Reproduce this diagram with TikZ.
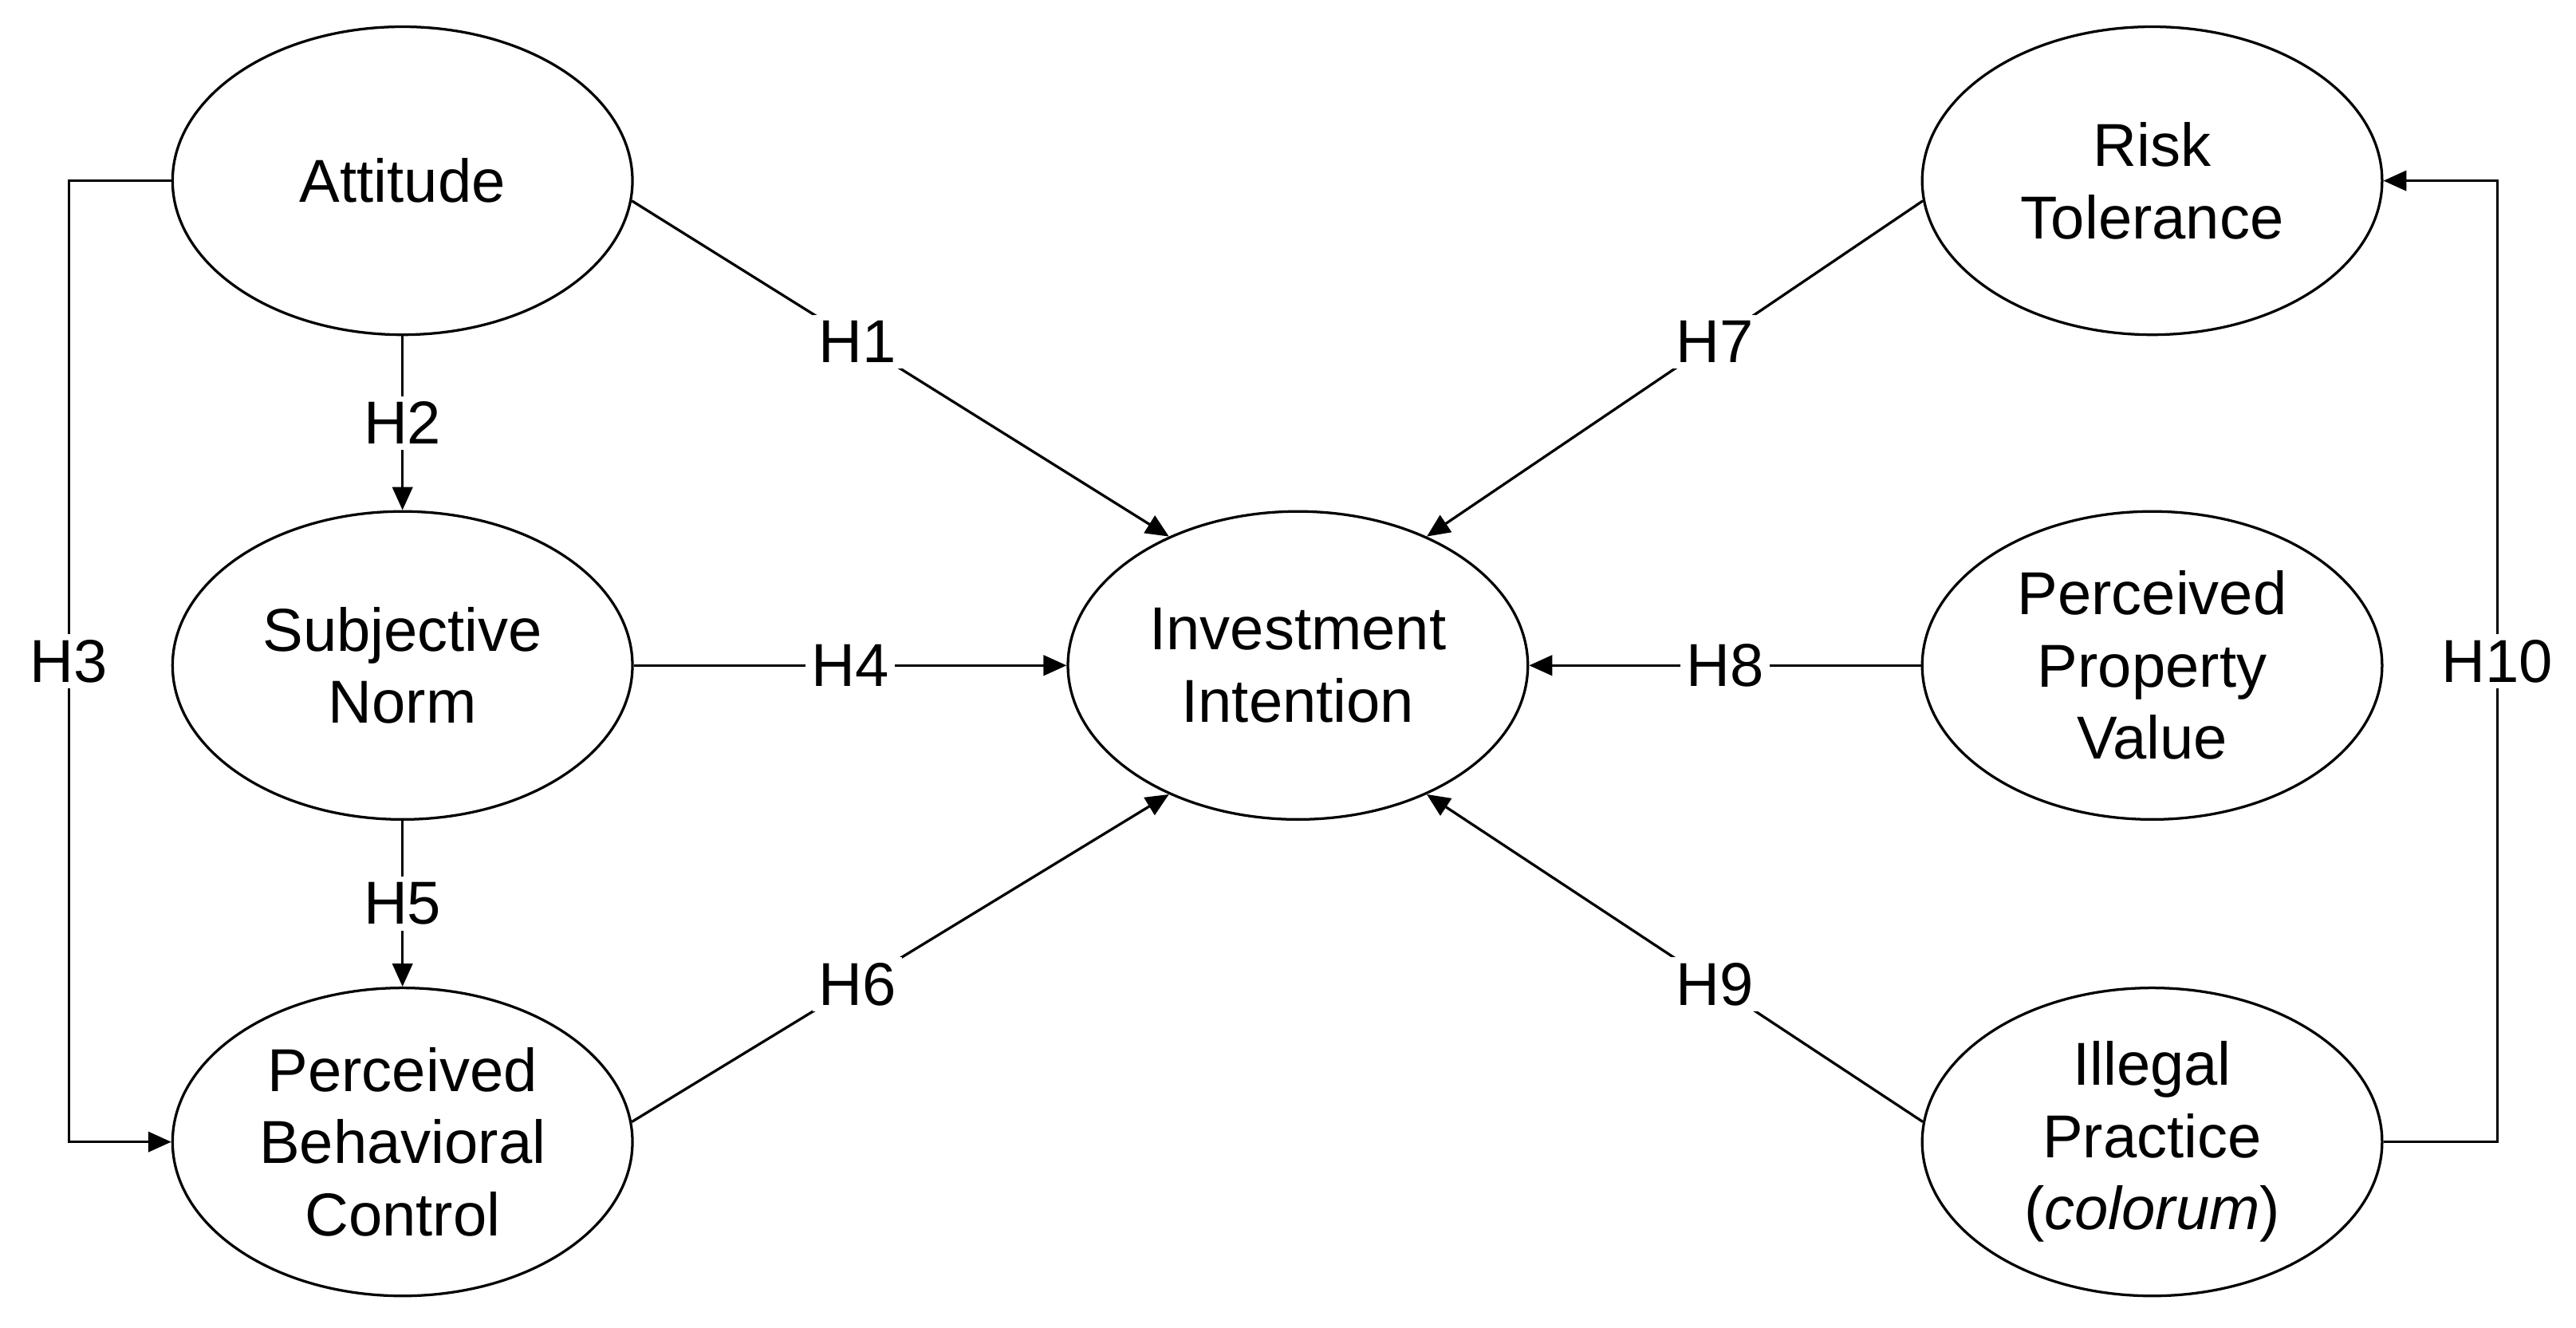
\documentclass[tikz,border=0pt]{standalone}
\usepackage{fontspec}
\setmainfont{Liberation Sans}
\usetikzlibrary{arrows.meta,shapes.geometric}
\begin{document}
\begin{tikzpicture}[x=0.02cm,y=-0.02cm,
  lat/.style={draw,ellipse,line width=0.9pt,minimum width=5.6cm,minimum height=3.75cm,inner sep=0pt,align=center,font=\fontsize{21}{25}\selectfont},
  arr/.style={line width=0.9pt,-{Triangle[length=8pt,width=7pt]}},
  lbl/.style={fill=white,inner sep=2pt,font=\fontsize{21}{25}\selectfont}]
\useasboundingbox (0,0) rectangle (1568,808);
\node[lat] (att) at (245,110) {Attitude};
\node[lat] (sn) at (245,405) {Subjective\\Norm};
\node[lat] (pbc) at (245,695) {Perceived\\Behavioral\\Control};
\node[lat] (ii) at (790,405) {Investment\\Intention};
\node[lat] (rt) at (1310,110) {Risk\\Tolerance};
\node[lat] (ppv) at (1310,405) {Perceived\\Property\\Value};
\node[lat] (ip) at (1310,695) {Illegal\\Practice\\(\textit{colorum})};
\coordinate (c3a) at (42,110); \coordinate (c3b) at (42,695);
\coordinate (c10a) at (1520,695); \coordinate (c10b) at (1520,110);
\draw[arr] (att.west) -- (c3a) -- node[lbl]{H3} (c3b) -- (pbc.west);
\draw[arr] (ip.east) -- (c10a) -- node[lbl]{H10} (c10b) -- (rt.east);
\draw[arr] (att.south) -- node[lbl]{H2} (sn.north);
\draw[arr] (sn.south) -- node[lbl]{H5} (pbc.north);
\draw[arr] (sn.east) -- node[lbl]{H4} (ii.west);
\draw[arr] (ppv.west) -- node[lbl]{H8} (ii.east);
\draw[arr] (att.-5) -- node[lbl,pos=0.42]{H1} (ii.135);
\draw[arr] (pbc.5) -- node[lbl,pos=0.42]{H6} (ii.225);
\draw[arr] (rt.185) -- node[lbl,pos=0.42]{H7} (ii.45);
\draw[arr] (ip.175) -- node[lbl,pos=0.42]{H9} (ii.-45);
\end{tikzpicture}
\end{document}
